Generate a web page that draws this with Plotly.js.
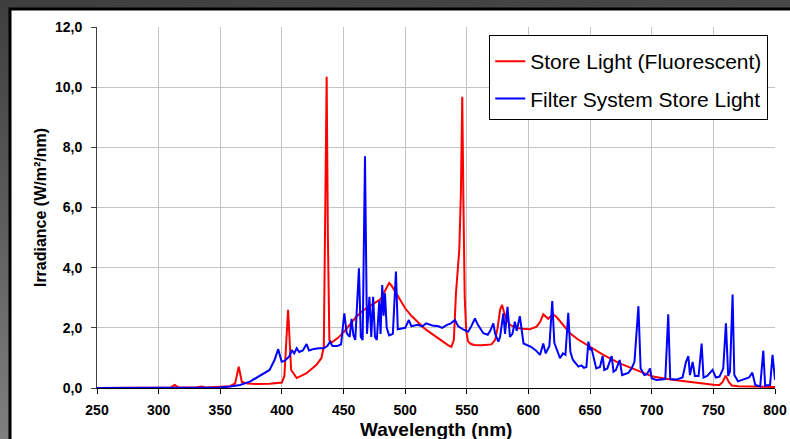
<!DOCTYPE html>
<html>
<head>
<meta charset="utf-8">
<script src="https://cdn.plot.ly/plotly-3.0.1.min.js"></script>
<style>
html, body { margin:0; padding:0; }
body { width:790px; height:439px; overflow:hidden;
  background: linear-gradient(175deg, #3e3e3e 0%, #5a5a5a 40%, #8a8a8a 100%); }
#chart { width:790px; height:439px; }
</style>
</head>
<body>
<div id="chart"></div>
<script>
// Store Light (Fluorescent)
const redX = [250,300,310,313,316,330,335,338,350,358,362,365,367.5,372,380,390,400,402,405,407.5,412,420,428,432,434,435,436.3,437.3,438.5,440,445,450,455,460,465,470,475,480,484,487,489,492,496,500,505,510,515,520,525,530,535,537.5,539.5,541.2,542.5,543.9,545.2,546.3,547.3,548.3,549.5,551,553,556,562,570,573,575,577,578.6,580,582,585,590,595,601,606.6,609.5,612,614,616,618,620,623,627,633.7,640,650,660,674,690,701,715,728,740,750,755,757.5,760,762.5,765,770,780,790,800];
const redY = [0,0,0.02,0.1,0.02,0.02,0.05,0.02,0.03,0.06,0.15,0.71,0.2,0.15,0.13,0.14,0.18,0.4,2.6,0.6,0.33,0.49,0.77,0.99,1.37,5.0,10.35,5.0,1.6,1.5,1.65,1.85,2.1,2.35,2.55,2.7,2.82,2.95,3.25,3.49,3.4,3.2,2.95,2.65,2.4,2.2,2.0,1.85,1.7,1.58,1.42,1.37,1.6,3.15,4.0,4.6,6.5,9.68,6.0,3.0,1.9,1.55,1.47,1.43,1.42,1.45,1.6,2.0,2.6,2.76,2.55,2.3,2.1,2.0,1.97,1.95,2.04,2.2,2.45,2.38,2.3,2.38,2.45,2.35,2.15,1.82,1.62,1.37,1.12,0.82,0.55,0.38,0.28,0.21,0.15,0.11,0.1,0.2,0.41,0.2,0.08,0.06,0.05,0.04,0.03];

// Filter System Store Light
const blueX = [250,300,340,350,358,366,374,382,390,394,397,399.8,402,404,406,408,410,412,414,417,420,422,426,430,434,437,439,441,445,448,450.6,452.6,455,456.5,458,459.5,462.5,464,465.5,467.4,469,471,472.5,474,475.5,477,479,480,481.4,482.5,483.6,485,487,490,492.5,494,497,500,503,505,510,514,517,522,527,530,534,537,540.4,543,547,551,553,556.6,559,563.4,567,569,571.5,573,575.6,577,579.6,581,583,585,587,589,590.5,593,596,602,606,609.4,612,614,617,619.3,621,623,625.6,628,630,632.3,634,636,640.5,643,645,647,648.6,650,651,653,655,658,660.2,661.5,664,667.5,669,671,674,676,679,681,683.7,686,689.2,691,694,696,698.6,700,704,708,711,713.4,715,720,725,727.8,729.7,731,733.2,735,738,740.5,742,745,749.4,752,755,758,760.2,762,763.5,765.6,767,770,775,779,781.6,784,788,790.5,792,796,798,800];
const blueY = [0,0,0,0.02,0.05,0.1,0.21,0.4,0.6,0.93,1.29,0.87,0.9,0.97,1.05,1.26,1.15,1.32,1.2,1.25,1.46,1.25,1.3,1.32,1.32,1.4,1.54,1.4,1.4,1.45,2.48,1.82,1.7,2.3,1.75,1.6,3.98,1.7,1.6,7.7,1.8,3.03,1.7,3.03,1.7,1.6,2.9,1.8,3.42,2.4,3.15,2.0,1.75,1.8,3.87,1.95,1.98,2.0,2.26,2.05,2.1,2.05,2.15,2.08,2.05,2.0,2.1,2.15,2.26,2.05,1.95,1.87,2.0,2.31,2.1,1.82,1.77,1.9,2.15,1.8,1.54,1.7,2.48,1.8,2.7,1.7,1.8,2.2,1.9,2.39,1.48,1.37,1.25,1.1,1.48,1.15,1.4,2.89,1.5,1.3,0.99,1.15,1.1,2.5,1.2,0.94,0.71,0.75,0.67,0.7,1.54,1.26,1.35,1.0,0.65,0.7,1.06,0.6,0.65,1.06,0.54,0.6,0.93,0.43,0.47,0.5,0.65,0.87,2.72,0.65,0.43,0.45,0.65,0.32,0.27,0.3,0.3,2.45,0.3,0.28,0.35,0.87,1.06,0.43,0.87,0.4,0.4,1.48,0.35,0.4,0.6,0.35,0.38,0.65,2.15,0.4,0.55,3.11,0.43,0.22,0.3,0.35,0.51,0.1,0.05,1.24,0.08,0.1,1.1,0.27];

const seriesNames = ['Store Light (Fluorescent)', 'Filter System Store Light'];
const xTitle = 'Wavelength (nm)';
const yTitle = 'Irradiance (W/m²/nm)';

const FONT = 'Liberation Sans, Arial, sans-serif';

const traces = [
  {x: redX, y: redY, name: seriesNames[0], type: 'scatter', mode: 'lines',
   line: {color: '#ff0000', width: 2}, legendgroup: 'a'},
  {x: blueX, y: blueY, name: seriesNames[1], type: 'scatter', mode: 'lines',
   line: {color: '#0000ff', width: 2}, legendgroup: 'b'}
];

const layout = {
  width: 790, height: 439,
  margin: {l: 97, r: 15, t: 27, b: 51},
  paper_bgcolor: 'rgba(0,0,0,0)',
  plot_bgcolor: '#ffffff',
  separators: ',.',
  showlegend: true,
  legend: {
    x: 0.99, xanchor: 'right', y: 0.978, yanchor: 'top',
    bgcolor: '#ffffff', bordercolor: '#000000', borderwidth: 1,
    font: {family: FONT, size: 21, color: '#000000'},
    traceorder: 'grouped', tracegroupgap: 7,
    title: {text: ' ', font: {size: 4}}
  },
  xaxis: {
    range: [250, 800], dtick: 50, tick0: 250,
    showgrid: true, gridcolor: '#c4c4c4', gridwidth: 1,
    showline: true, linecolor: '#000000', linewidth: 1,
    ticks: 'outside', ticklen: 5, tickcolor: '#000000',
    ticklabelstandoff: 4,
    tickfont: {family: FONT, size: 14, weight: 'bold', color: '#000000'},
    zeroline: false,
    title: {text: ''}
  },
  yaxis: {
    range: [0, 12], dtick: 2, tick0: 0, tickformat: '.1f',
    showgrid: true, gridcolor: '#c4c4c4', gridwidth: 1,
    showline: true, linecolor: '#404040', linewidth: 1,
    ticks: 'outside', ticklen: 5, tickcolor: '#404040',
    ticklabelstandoff: 6,
    tickfont: {family: FONT, size: 14, weight: 'bold', color: '#000000'},
    zeroline: false,
    title: {text: yTitle, standoff: 4,
            font: {family: FONT, size: 16, weight: 'bold', color: '#000000'}}
  },
  annotations: [{
    text: xTitle, xref: 'paper', yref: 'paper', x: 0.5, y: -0.1136,
    xanchor: 'center', yanchor: 'middle', showarrow: false,
    font: {family: FONT, size: 19, weight: 'bold', color: '#000000'}
  }],
  shapes: [{
    type: 'rect', xref: 'paper', yref: 'paper', layer: 'below',
    x0: -0.1283, x1: 1.1, y0: -0.3, y1: 1.0499,
    fillcolor: '#ffffff', line: {color: '#000000', width: 3}
  }]
};

Plotly.newPlot('chart', traces, layout, {displayModeBar: false, staticPlot: true});
</script>
</body>
</html>
